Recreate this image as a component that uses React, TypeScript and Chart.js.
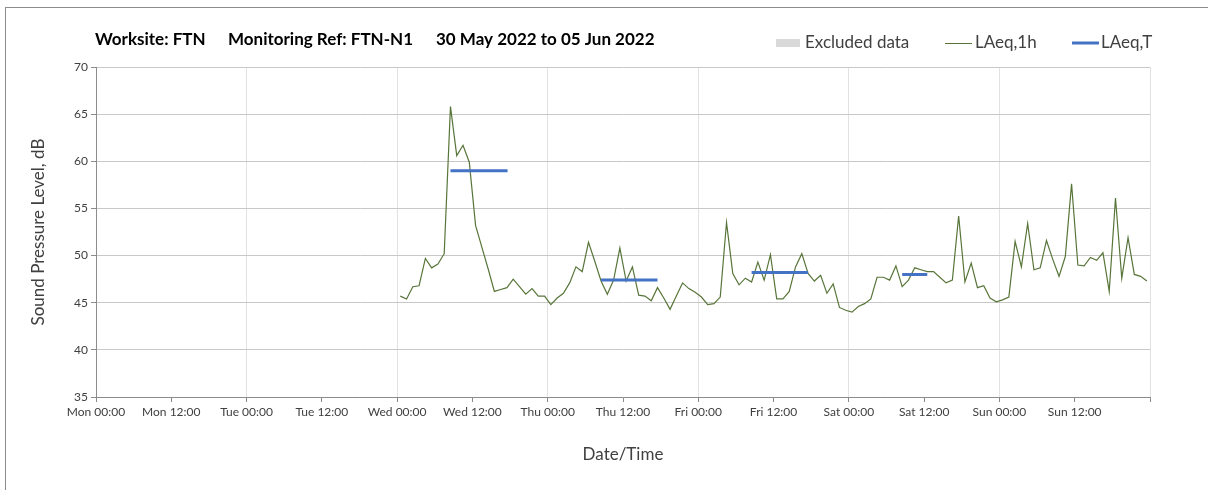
import React, { useEffect, useRef } from 'react';
import { Chart, registerables } from 'chart.js';

Chart.register(...registerables);

// ---------- data ----------
const TITLE_PARTS = ['Worksite: FTN', 'Monitoring Ref: FTN-N1', '30 May 2022 to 05 Jun 2022'];
const SERIES_NAMES = ['Excluded data', 'LAeq,1h', 'LAeq,T'];
const X_TICK_LABELS = [
  'Mon 00:00', 'Mon 12:00', 'Tue 00:00', 'Tue 12:00', 'Wed 00:00', 'Wed 12:00', 'Thu 00:00',
  'Thu 12:00', 'Fri 00:00', 'Fri 12:00', 'Sat 00:00', 'Sat 12:00', 'Sun 00:00', 'Sun 12:00',
];
const X_MIN_HOURS = 0;
const X_MAX_HOURS = 168;
const X_STEP_HOURS = 12;
const Y_MIN = 35;
const Y_MAX = 70;
const Y_STEP = 5;

// hourly LAeq,1h, first value at Wed 00:30 (hours since Mon 00:00)
const LAEQ_1H_FIRST_HOUR = 48.5;
const LAEQ_1H = [
  45.7, 45.4, 46.7, 46.8, 49.7, 48.7, 49.1, 50.2, 65.8, 60.6, 61.7, 59.9,
  53.2, 50.9, 48.6, 46.2, 46.4, 46.6, 47.5, 46.7, 45.9, 46.5, 45.7, 45.7,
  44.8, 45.5, 46.0, 47.1, 48.8, 48.3, 51.4, 49.4, 47.3, 45.9, 47.4, 50.8,
  47.3, 48.8, 45.8, 45.7, 45.2, 46.6, 45.5, 44.3, 45.7, 47.1, 46.5, 46.1,
  45.6, 44.8, 44.9, 45.6, 53.5, 48.1, 46.9, 47.6, 47.2, 49.3, 47.4, 50.1,
  45.4, 45.4, 46.2, 48.8, 50.2, 48.1, 47.3, 47.9, 46.0, 47.0, 44.5, 44.2,
  44.0, 44.6, 44.9, 45.4, 47.7, 47.7, 47.4, 48.9, 46.7, 47.4, 48.7, 48.5,
  48.3, 48.3, 47.7, 47.1, 47.4, 54.2, 47.2, 49.2, 46.6, 46.8, 45.5, 45.1,
  45.3, 45.6, 51.5, 48.8, 53.4, 48.5, 48.7, 51.6, 49.6, 47.8, 49.9, 57.6,
  49.0, 48.9, 49.8, 49.5, 50.3, 46.2, 56.1, 47.6, 51.9, 48.0, 47.8, 47.3,
];

// LAeq,T periods (hours since Mon 00:00)
const LAEQ_T_START = [56.5, 80.5, 104.5, 128.5];
const LAEQ_T_END = [65.6, 89.5, 113.5, 132.5];
const LAEQ_T_VALUES = [59.0, 47.4, 48.2, 48.0];

// ---------- styles ----------
const GREEN = '#587539';
const BLUE = '#4472c4';
const EXCLUDED_GREY = '#d9d9d9';
const TEXT = '#404040';
const FONT = 'Lato, "Noto Sans", sans-serif';

const headerPlugin = {
  id: 'headerPlugin',
  afterDraw(chart: any) {
    const ctx = chart.ctx as CanvasRenderingContext2D;
    ctx.save();
    ctx.textBaseline = 'middle';
    ctx.textAlign = 'left';
    // title
    ctx.fillStyle = '#000';
    ctx.font = `bold 17px ${FONT}`;
    const titleX = [89, 222, 430];
    TITLE_PARTS.forEach((t, i) => ctx.fillText(t, titleX[i], 32));
    // legend
    const ly = 35;
    ctx.font = `17px ${FONT}`;
    // excluded data swatch
    ctx.fillStyle = EXCLUDED_GREY;
    ctx.fillRect(770, ly - 4, 24, 8);
    ctx.fillStyle = TEXT;
    ctx.fillText(SERIES_NAMES[0], 799, ly);
    // LAeq,1h
    ctx.strokeStyle = GREEN;
    ctx.lineWidth = 1;
    ctx.beginPath();
    ctx.moveTo(939, ly + 0.5);
    ctx.lineTo(966, ly + 0.5);
    ctx.stroke();
    ctx.fillText(SERIES_NAMES[1], 969, ly);
    // LAeq,T
    ctx.strokeStyle = BLUE;
    ctx.lineWidth = 3;
    ctx.beginPath();
    ctx.moveTo(1066, ly);
    ctx.lineTo(1093, ly);
    ctx.stroke();
    ctx.fillText(SERIES_NAMES[2], 1095, ly);
    ctx.restore();
  },
};

export default function App() {
  const canvasRef = useRef<HTMLCanvasElement | null>(null);

  useEffect(() => {
    const canvas = canvasRef.current;
    if (!canvas) return;

    const laeq1hData = LAEQ_1H.map((v, i) => ({ x: LAEQ_1H_FIRST_HOUR + i, y: v }));
    const laeqTData: { x: number; y: number | null }[] = [];
    LAEQ_T_VALUES.forEach((v, i) => {
      laeqTData.push({ x: LAEQ_T_START[i], y: v });
      laeqTData.push({ x: LAEQ_T_END[i], y: v });
      laeqTData.push({ x: LAEQ_T_END[i] + 0.01, y: null });
    });

    const chart = new Chart(canvas, {
      type: 'line',
      data: {
        datasets: [
          {
            label: SERIES_NAMES[0],
            data: [],
            borderColor: EXCLUDED_GREY,
            backgroundColor: EXCLUDED_GREY,
            pointRadius: 0,
            order: 2,
          },
          {
            label: SERIES_NAMES[1],
            data: laeq1hData,
            borderColor: GREEN,
            borderWidth: 1.2,
            pointRadius: 0,
            tension: 0,
            order: 1,
          },
          {
            label: SERIES_NAMES[2],
            data: laeqTData,
            borderColor: BLUE,
            borderWidth: 3,
            pointRadius: 0,
            spanGaps: false,
            order: 0,
          },
        ],
      },
      options: {
        animation: false,
        responsive: false,
        devicePixelRatio: 1,
        layout: { padding: { top: 59, right: 58, left: 0, bottom: 0 } },
        plugins: {
          legend: { display: false },
          title: { display: false },
          tooltip: { enabled: false },
        },
        scales: {
          x: {
            type: 'linear',
            min: X_MIN_HOURS,
            max: X_MAX_HOURS,
            afterFit(scale: any) {
              scale.height = 93;
            },
            ticks: {
              stepSize: X_STEP_HOURS,
              autoSkip: false,
              maxRotation: 0,
              padding: 3,
              color: TEXT,
              font: { family: FONT, size: 12 },
              callback: (v: any) => X_TICK_LABELS[Math.round(Number(v) / X_STEP_HOURS)] ?? '',
            },
            grid: {
              color: (c: any) => (c.tick && c.tick.value % 24 === 0 ? '#e2e2e2' : 'rgba(0,0,0,0)'),
              tickColor: '#8c8c8c',
              tickLength: 5,
              lineWidth: 1,
            },
            border: { color: '#8c8c8c', width: 1 },
            title: {
              display: true,
              text: 'Date/Time',
              color: TEXT,
              font: { family: FONT, size: 17 },
              padding: { top: 0, bottom: 25 },
            },
          },
          y: {
            min: Y_MIN,
            max: Y_MAX,
            afterFit(scale: any) {
              scale.width = 90;
            },
            ticks: {
              stepSize: Y_STEP,
              padding: 3,
              color: TEXT,
              font: { family: FONT, size: 12 },
            },
            grid: {
              color: '#c8c8c8',
              tickColor: '#8c8c8c',
              tickLength: 5,
            },
            border: { color: '#8c8c8c', width: 1 },
            title: {
              display: true,
              text: 'Sound Pressure Level, dB',
              color: TEXT,
              font: { family: FONT, size: 17 },
              padding: { top: 22, bottom: 0 },
            },
          },
        },
      },
      plugins: [headerPlugin],
    });

    return () => chart.destroy();
  }, []);

  return (
    <div
      style={{
        position: 'absolute',
        left: 5,
        top: 7,
        width: 1203,
        height: 483,
        borderLeft: '1px solid #8c8c8c',
        borderTop: '1px solid #8c8c8c',
        background: '#fff',
        overflow: 'hidden',
      }}
    >
      <canvas ref={canvasRef} width={1202} height={482} style={{ display: 'block' }} />
    </div>
  );
}
